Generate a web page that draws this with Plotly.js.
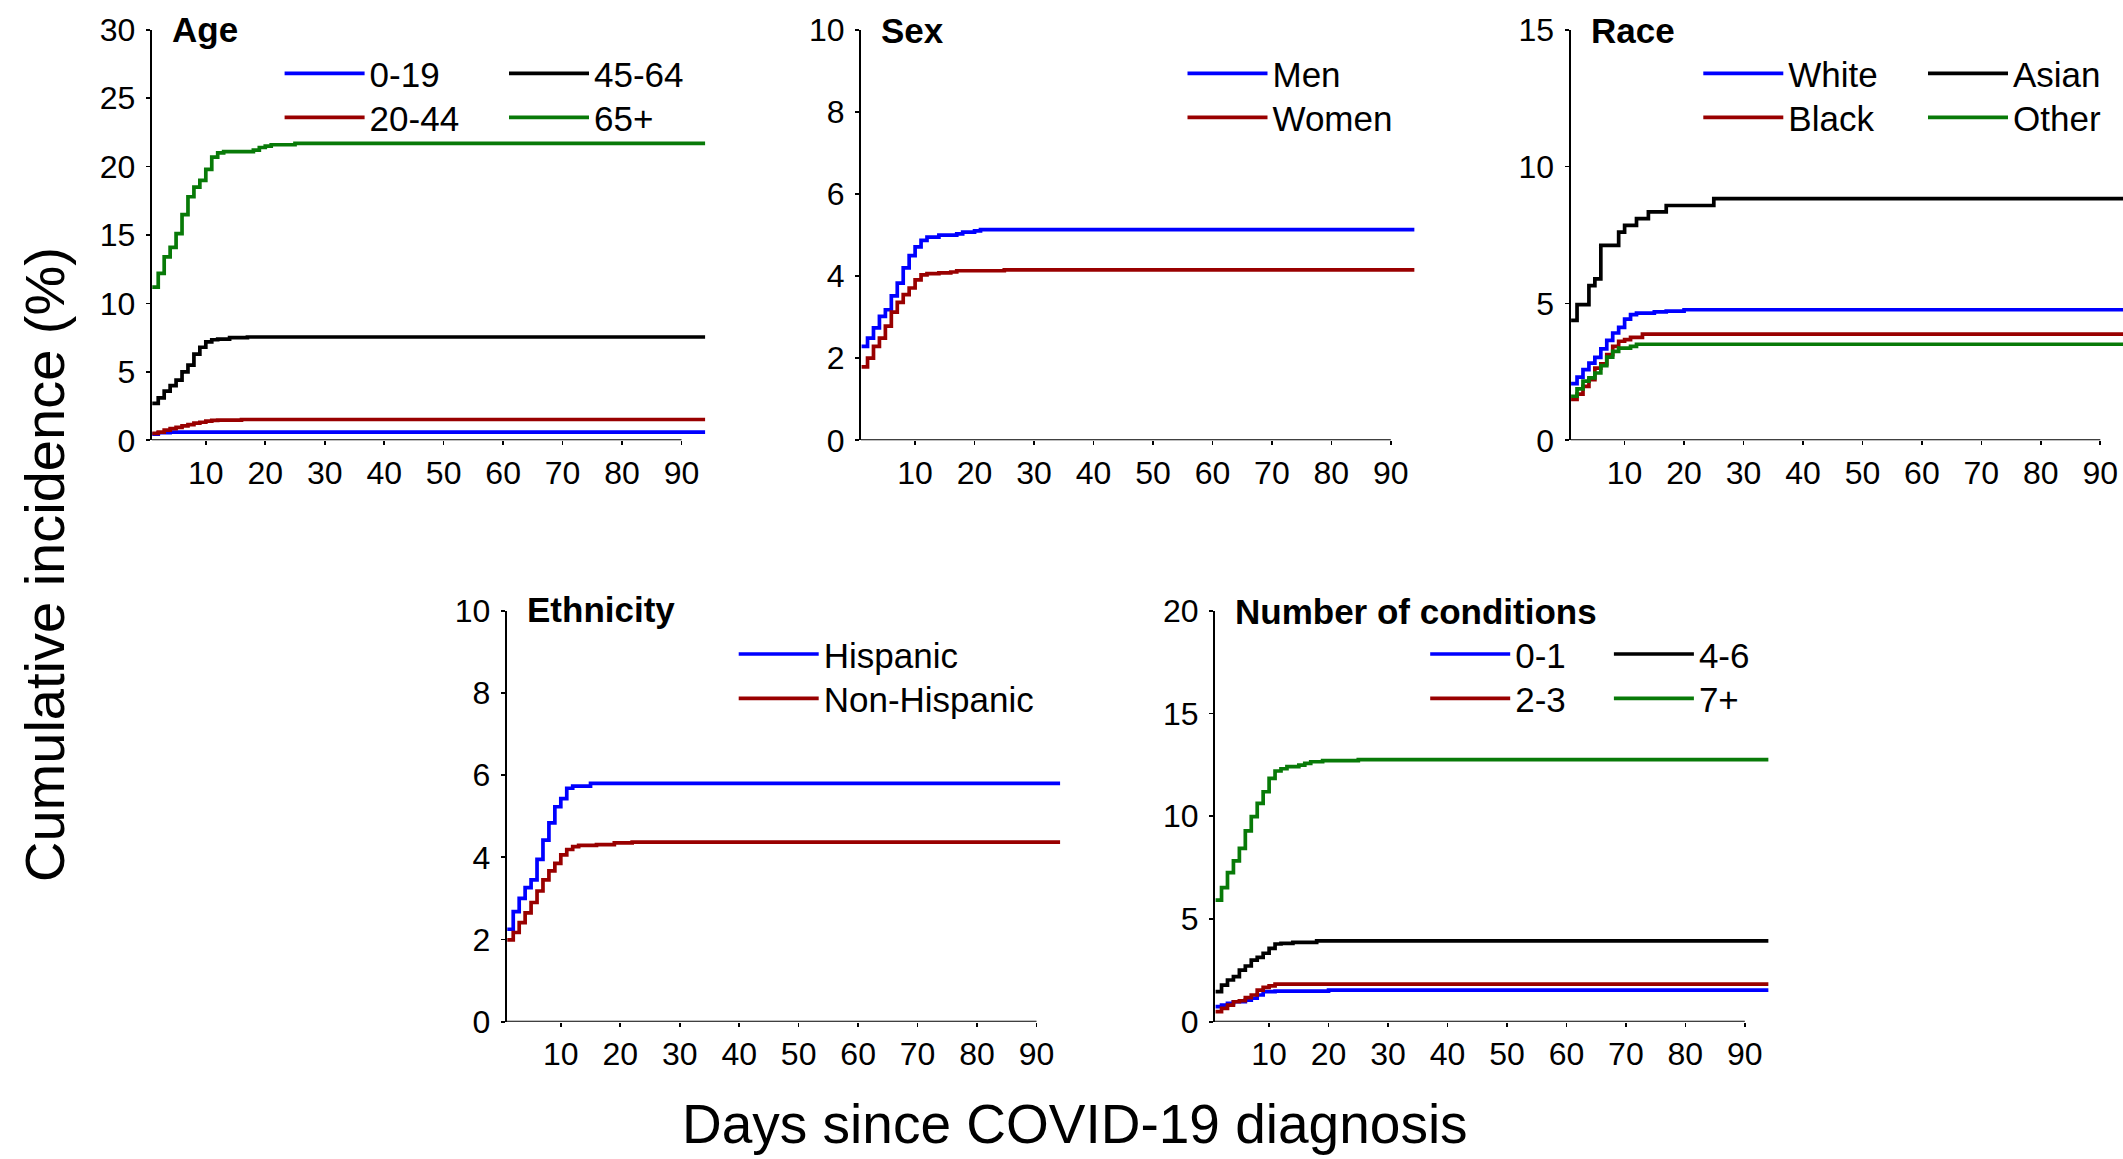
<!DOCTYPE html>
<html>
<head>
<meta charset="utf-8">
<script src="https://cdn.plot.ly/plotly-3.0.1.min.js"></script>
<style>html,body{margin:0;padding:0;background:#fff;}#chart{width:2123px;height:1159px;}</style>
</head>
<body>
<div id="chart"></div>
<script>
// ---------- Data (cumulative incidence, %) ----------
const xTickVals = [10, 20, 30, 40, 50, 60, 70, 80, 90];
const xTickText = ["10", "20", "30", "40", "50", "60", "70", "80", "90"];

// Age
const ageLabels = ["0-19", "20-44", "45-64", "65+"];
const age019Days = [1, 2, 4, 94];
const age019 = [0.45, 0.55, 0.6, 0.6];
const age2044Days = [1, 2, 3, 4, 5, 6, 7, 8, 9, 10, 11, 12, 16, 94];
const age2044 = [0.5, 0.6, 0.75, 0.85, 0.95, 1.05, 1.15, 1.25, 1.32, 1.4, 1.45, 1.48, 1.52, 1.52];
const age4564Days = [1, 2, 3, 4, 5, 6, 7, 8, 9, 10, 11, 12, 14, 17, 94];
const age4564 = [2.7, 3.1, 3.6, 4.0, 4.4, 5.0, 5.5, 6.3, 6.8, 7.2, 7.35, 7.4, 7.5, 7.55, 7.55];
const age65Days = [1, 2, 3, 4, 5, 6, 7, 8, 9, 10, 11, 12, 13, 18, 19, 20, 21, 25, 94];
const age65 = [11.2, 12.2, 13.4, 14.1, 15.1, 16.5, 17.8, 18.5, 19.0, 19.8, 20.7, 21.0, 21.1, 21.2, 21.4, 21.5, 21.6, 21.7, 21.7];

// Sex
const sexLabels = ["Men", "Women"];
const menDays = [1, 2, 3, 4, 5, 6, 7, 8, 9, 10, 11, 12, 14, 17, 18, 20, 21, 94];
const men = [2.29, 2.49, 2.74, 3.02, 3.18, 3.52, 3.83, 4.2, 4.5, 4.71, 4.87, 4.95, 5.0, 5.03, 5.07, 5.1, 5.13, 5.13];
const womenDays = [1, 2, 3, 4, 5, 6, 7, 8, 9, 10, 11, 12, 14, 16, 17, 25, 94];
const women = [1.79, 2.0, 2.29, 2.49, 2.78, 3.12, 3.36, 3.55, 3.71, 3.91, 4.03, 4.06, 4.08, 4.1, 4.13, 4.15, 4.15];

// Race
const raceLabels = ["White", "Black", "Asian", "Other"];
const whiteDays = [1, 2, 3, 4, 5, 6, 7, 8, 9, 10, 11, 12, 15, 17, 20, 94];
const white = [2.07, 2.31, 2.58, 2.82, 3.03, 3.34, 3.65, 3.92, 4.13, 4.43, 4.59, 4.65, 4.69, 4.72, 4.77, 4.77];
const blackDays = [1, 2, 3, 4, 5, 6, 7, 8, 9, 10, 11, 13, 94];
const black = [1.49, 1.69, 1.97, 2.22, 2.64, 2.79, 3.13, 3.43, 3.62, 3.68, 3.76, 3.88, 3.88];
const asianDays = [1, 2, 4, 5, 6, 9, 10, 12, 14, 17, 25, 94];
const asian = [4.38, 4.96, 5.65, 5.9, 7.12, 7.61, 7.85, 8.1, 8.35, 8.58, 8.83, 8.83];
const otherDays = [1, 2, 3, 4, 5, 6, 7, 8, 9, 11, 12, 94];
const other = [1.61, 1.88, 2.16, 2.28, 2.46, 2.73, 3.04, 3.25, 3.37, 3.43, 3.51, 3.51];

// Ethnicity
const ethLabels = ["Hispanic", "Non-Hispanic"];
const hispDays = [1, 2, 3, 4, 5, 6, 7, 8, 9, 10, 11, 12, 15, 94];
const hisp = [2.25, 2.68, 3.0, 3.26, 3.45, 3.95, 4.42, 4.84, 5.23, 5.43, 5.68, 5.73, 5.8, 5.8];
const nonHispDays = [1, 2, 3, 4, 5, 6, 7, 8, 9, 10, 11, 12, 13, 16, 19, 22, 94];
const nonHisp = [1.99, 2.17, 2.41, 2.65, 2.9, 3.18, 3.45, 3.67, 3.85, 4.06, 4.19, 4.26, 4.29, 4.31, 4.35, 4.37, 4.37];

// Number of conditions
const condLabels = ["0-1", "2-3", "4-6", "7+"];
const c01Days = [1, 2, 3, 4, 6, 7, 8, 9, 11, 20, 94];
const c01 = [0.73, 0.81, 0.89, 0.97, 1.05, 1.14, 1.3, 1.46, 1.49, 1.54, 1.54];
const c23Days = [1, 2, 3, 4, 5, 6, 7, 8, 9, 10, 11, 94];
const c23 = [0.49, 0.65, 0.81, 0.97, 1.02, 1.17, 1.3, 1.54, 1.67, 1.74, 1.83, 1.83];
const c46Days = [1, 2, 3, 4, 5, 6, 7, 8, 9, 10, 11, 12, 14, 18, 94];
const c46 = [1.46, 1.78, 2.03, 2.19, 2.51, 2.71, 3.0, 3.13, 3.33, 3.57, 3.78, 3.81, 3.86, 3.93, 3.93];
const c7Days = [1, 2, 3, 4, 5, 6, 7, 8, 9, 10, 11, 12, 13, 15, 16, 17, 19, 25, 94];
const c7 = [5.92, 6.52, 7.25, 7.83, 8.43, 9.29, 9.98, 10.62, 11.19, 11.84, 12.2, 12.31, 12.41, 12.49, 12.57, 12.65, 12.7, 12.75, 12.75];

const panelTitles = ["Age", "Sex", "Race", "Ethnicity", "Number of conditions"];
const xAxisTitle = "Days since COVID-19 diagnosis";
const yAxisTitle = "Cumulative incidence (%)";

// ---------- Styling ----------
const W = 2123, H = 1159;
const FONT = "Liberation Sans, Arial, Helvetica, sans-serif";
const BLUE = "#0000FF", RED = "#990000", BLACK = "#000000", GREEN = "#087A08";
const LW = 3.7;
const LEG_FONT = 35, LEG_ITEMW = 80;

function px2x(p) { return p / W; }
function px2y(p) { return 1 - p / H; }

function tr(x, y, name, color, ax, legend) {
  return {
    type: "scatter", mode: "lines", x: x, y: y, name: name,
    line: { color: color, width: LW, shape: "hv" },
    xaxis: ax[0], yaxis: ax[1], legend: legend, hoverinfo: "skip"
  };
}

const data = [
  tr(age019Days, age019, ageLabels[0], BLUE, ["x", "y"], "legend"),
  tr(age2044Days, age2044, ageLabels[1], RED, ["x", "y"], "legend2"),
  tr(age4564Days, age4564, ageLabels[2], BLACK, ["x", "y"], "legend3"),
  tr(age65Days, age65, ageLabels[3], GREEN, ["x", "y"], "legend4"),

  tr(menDays, men, sexLabels[0], BLUE, ["x2", "y2"], "legend5"),
  tr(womenDays, women, sexLabels[1], RED, ["x2", "y2"], "legend6"),

  tr(whiteDays, white, raceLabels[0], BLUE, ["x3", "y3"], "legend7"),
  tr(blackDays, black, raceLabels[1], RED, ["x3", "y3"], "legend8"),
  tr(asianDays, asian, raceLabels[2], BLACK, ["x3", "y3"], "legend9"),
  tr(otherDays, other, raceLabels[3], GREEN, ["x3", "y3"], "legend10"),

  tr(hispDays, hisp, ethLabels[0], BLUE, ["x4", "y4"], "legend11"),
  tr(nonHispDays, nonHisp, ethLabels[1], RED, ["x4", "y4"], "legend12"),

  tr(c01Days, c01, condLabels[0], BLUE, ["x5", "y5"], "legend13"),
  tr(c23Days, c23, condLabels[1], RED, ["x5", "y5"], "legend14"),
  tr(c46Days, c46, condLabels[2], BLACK, ["x5", "y5"], "legend15"),
  tr(c7Days, c7, condLabels[3], GREEN, ["x5", "y5"], "legend16")
];

const tickFont = { family: FONT, size: 32, color: "#000" };

function xax(domPx, range) {
  return {
    domain: [px2x(domPx[0]), Math.min(1, px2x(domPx[1]))],
    range: range, tickvals: xTickVals, ticktext: xTickText,
    showline: false, showgrid: false, zeroline: false,
    ticks: "outside", ticklen: 4, tickwidth: 1.6, tickcolor: "#000",
    tickfont: tickFont, ticklabelstandoff: 0, fixedrange: true
  };
}
function yax(domPx, max, dtick, anchor) {
  return {
    domain: [px2y(domPx[0]), px2y(domPx[1])],
    range: [0, max], dtick: dtick, tick0: 0, anchor: anchor,
    showline: true, linewidth: 2, linecolor: "#000",
    showgrid: false, zeroline: false,
    ticks: "outside", ticklen: 4, tickwidth: 1.6, tickcolor: "#000",
    tickfont: tickFont, ticklabelstandoff: 4, fixedrange: true
  };
}

const TOP = [440.3, 29.8], BOT = [1021.7, 610.7];
const R = [0.9, 94], RR = [0.9, 93.82];

// legend entry placed by where its text starts and the centre of its row (pixels)
function legendAt(textXPx, rowCenterPx) {
  const itemH = LEG_FONT * 1.3 + 3;
  const topPx = rowCenterPx - (5 + itemH / 2);
  const leftPx = textXPx - (LEG_ITEMW + 10);
  return {
    x: px2x(leftPx), y: px2y(topPx), xanchor: "left", yanchor: "top",
    orientation: "v", bgcolor: "rgba(0,0,0,0)", borderwidth: 0,
    font: { family: FONT, size: LEG_FONT, color: "#000" },
    itemwidth: LEG_ITEMW, tracegroupgap: 0, itemclick: false, itemdoubleclick: false
  };
}

function axisLine(xa, ya) {
  return { type: "line", xref: xa, yref: ya, x0: R[0], x1: xTickVals[xTickVals.length - 1], y0: 0, y1: 0,
           line: { color: "#000", width: 2 } };
}

function panelTitle(text, axisPx, capCenterPx) {
  return { text: "<b>" + text + "</b>", xref: "paper", yref: "paper",
           x: px2x(axisPx + 18), y: px2y(capCenterPx), xanchor: "left", yanchor: "middle",
           showarrow: false, font: { family: FONT, size: 35, color: "#000" } };
}

const rowTop = [73.3, 117.3], rowBot = [654, 698.3];

const layout = {
  width: W, height: H,
  margin: { l: 0, r: 0, t: 0, b: 0, autoexpand: false },
  paper_bgcolor: "#fff", plot_bgcolor: "rgba(0,0,0,0)",
  showlegend: true,
  font: { family: FONT, color: "#000" },
  xaxis: xax([151.7, 705.3], R),
  yaxis: yax(TOP, 30, 5, "x"),
  xaxis2: Object.assign(xax([861, 1414.6], R), { anchor: "y2" }),
  yaxis2: yax(TOP, 10, 2, "x2"),
  xaxis3: Object.assign(xax([1570.5, 2123], RR), { anchor: "y3" }),
  yaxis3: yax(TOP, 15, 5, "x3"),
  xaxis4: Object.assign(xax([506.7, 1060.3], R), { anchor: "y4" }),
  yaxis4: yax(BOT, 10, 2, "x4"),
  xaxis5: Object.assign(xax([1215, 1768.6], R), { anchor: "y5" }),
  yaxis5: yax(BOT, 20, 5, "x5"),
  legend: legendAt(369.6, rowTop[0]),
  legend2: legendAt(369.6, rowTop[1]),
  legend3: legendAt(594, rowTop[0]),
  legend4: legendAt(594, rowTop[1]),
  legend5: legendAt(1272.5, rowTop[0]),
  legend6: legendAt(1272.5, rowTop[1]),
  legend7: legendAt(1788.3, rowTop[0]),
  legend8: legendAt(1788.3, rowTop[1]),
  legend9: legendAt(2013, rowTop[0]),
  legend10: legendAt(2013, rowTop[1]),
  legend11: legendAt(823.7, rowBot[0]),
  legend12: legendAt(823.7, rowBot[1]),
  legend13: legendAt(1515.2, rowBot[0]),
  legend14: legendAt(1515.2, rowBot[1]),
  legend15: legendAt(1698.9, rowBot[0]),
  legend16: legendAt(1698.9, rowBot[1]),
  shapes: [
    axisLine("x", "y"), axisLine("x2", "y2"), axisLine("x3", "y3"),
    axisLine("x4", "y4"), axisLine("x5", "y5")
  ],
  annotations: [
    panelTitle(panelTitles[0], 151.7, 29.5),
    panelTitle(panelTitles[1], 861, 30.5),
    panelTitle(panelTitles[2], 1570.5, 30.5),
    panelTitle(panelTitles[3], 506.7, 609),
    panelTitle(panelTitles[4], 1215, 611),
    { text: xAxisTitle, xref: "paper", yref: "paper", x: px2x(1075), y: px2y(1124),
      xanchor: "center", yanchor: "middle", showarrow: false,
      font: { family: FONT, size: 55, color: "#000" } },
    { text: yAxisTitle, xref: "paper", yref: "paper", x: px2x(44), y: px2y(565),
      xanchor: "center", yanchor: "middle", textangle: -90, showarrow: false,
      font: { family: FONT, size: 56, color: "#000" } }
  ]
};

Plotly.newPlot("chart", data, layout, { staticPlot: true, displayModeBar: false });
</script>
</body>
</html>
